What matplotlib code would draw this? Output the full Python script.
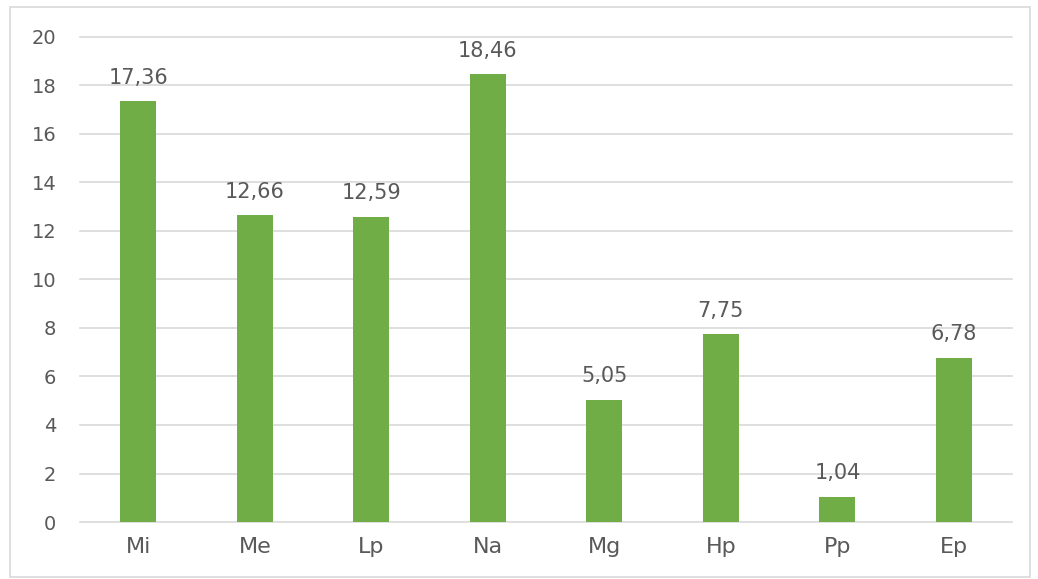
import matplotlib
matplotlib.use('Agg')
from matplotlib import pyplot as plt
from matplotlib.patches import Rectangle

categories = ['Mi', 'Me', 'Lp', 'Na', 'Mg', 'Hp', 'Pp', 'Ep']
values = [17.36, 12.66, 12.59, 18.46, 5.05, 7.75, 1.04, 6.78]
yticks = [0, 2, 4, 6, 8, 10, 12, 14, 16, 18, 20]

plt.rcParams['font.family'] = ['DejaVu Sans']
text_color = '#595959'

fig = plt.figure(figsize=(10.38, 5.79), dpi=100)
ax = fig.add_axes([0.0771, 0.0984, 0.898, 0.838])

x = list(range(len(categories)))
bars = ax.bar(x, values, width=0.31, color='#70AD47', zorder=3)

for xi, v in zip(x, values):
    ax.text(xi, v + 0.55, f'{v:.2f}'.replace('.', ','), ha='center', va='bottom',
            fontsize=15, color=text_color)

ax.set_xlim(-0.5, len(categories) - 0.5)
ax.set_ylim(0, 20)
ax.set_yticks(yticks)
ax.set_xticks(x)
ax.set_xticklabels(categories)
ax.tick_params(axis='y', length=0, labelsize=14, colors=text_color, pad=17)
ax.tick_params(axis='x', length=0, labelsize=16, colors=text_color, pad=11)
ax.grid(axis='y', color='#D9D9D9', linewidth=1.2, zorder=0)
for line in ax.get_ygridlines():
    line.set_clip_on(False)
for s in ax.spines.values():
    s.set_visible(False)

fig.patches.append(Rectangle((10 / 1038, 2 / 579), 1020 / 1038, 570 / 579,
                             transform=fig.transFigure, fill=False,
                             edgecolor='#D9D9D9', linewidth=1.2))

fig.savefig('out.png', dpi=100)
